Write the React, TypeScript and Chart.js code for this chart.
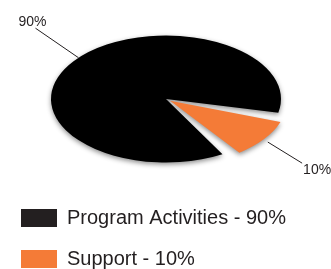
import React, { useEffect, useRef } from 'react';
import { Chart, registerables } from 'chart.js';

Chart.register(...registerables);

const LABELS = ['Program Activities - 90%', 'Support - 10%'];
const VALUES = [90, 10];
const SLICE_LABELS = ['90%', '10%'];
const COLORS = ['#000000', '#f47b37'];
const LEGEND_COLORS = ['#231f20', '#f47b37'];
const OFFSETS = [0, 20];

const SQUASH = 0.552;
const PIE_X = 166;
const PIE_Y = 99;
const FONT = "'Liberation Sans', Arial, sans-serif";
const INK = '#231f20';
const LEADER_START_BEND = [4, 1];
const LEADER_END_BEND = [8, 4];
const LEADER_LEN = [183, 179];

const rad = (d: number) => (d * Math.PI) / 180;

const ellipsePlugin = {
  id: 'ellipse',
  beforeDatasetsDraw(chart: any) {
    const arc = chart.getDatasetMeta(0).data[0];
    const ctx = chart.ctx;
    ctx.save();
    ctx.translate(PIE_X, PIE_Y);
    ctx.scale(1, SQUASH);
    ctx.translate(-arc.x, -arc.y);
    ctx.shadowColor = 'rgba(0,0,0,0.45)';
    ctx.shadowBlur = 5;
    ctx.shadowOffsetY = 2;
  },
  afterDatasetsDraw(chart: any) {
    const ctx = chart.ctx;
    ctx.restore();
    const meta = chart.getDatasetMeta(0);
    meta.data.forEach((el: any, i: number) => {
      const { startAngle, endAngle, outerRadius } = el.getProps(
        ['startAngle', 'endAngle', 'outerRadius'],
        true
      );
      const off = el.options.offset || 0;
      const sp = (el.options.spacing || 0) / 2;
      const circ = endAngle - startAngle;
      const fix = 1 - Math.sin(Math.min(Math.PI, circ));
      const mid = (startAngle + endAngle) / 2;
      const shift = off / 4;
      const r = outerRadius + sp + off * fix;
      const a0 = mid + rad(LEADER_START_BEND[i]);
      const sx = PIE_X + Math.cos(mid) * shift + Math.cos(a0) * r;
      const sy = PIE_Y + (Math.sin(mid) * shift + Math.sin(a0) * r) * SQUASH;
      const a1 = mid + rad(LEADER_END_BEND[i]);
      const ex = PIE_X + Math.cos(a1) * LEADER_LEN[i];
      const ey = PIE_Y + Math.sin(a1) * LEADER_LEN[i] * SQUASH;
      ctx.save();
      ctx.strokeStyle = INK;
      ctx.lineWidth = 1;
      ctx.beginPath();
      ctx.moveTo(sx, sy);
      ctx.lineTo(ex, ey);
      ctx.stroke();
      ctx.fillStyle = INK;
      ctx.font = `14px ${FONT}`;
      ctx.textBaseline = 'alphabetic';
      if (Math.cos(mid) < 0) {
        ctx.textAlign = 'center';
        ctx.fillText(SLICE_LABELS[i], ex - 3, ey - 2);
      } else {
        ctx.textAlign = 'left';
        ctx.fillText(SLICE_LABELS[i], ex + 1, ey + 11);
      }
      ctx.restore();
    });
  },
};

export default function App() {
  const ref = useRef<HTMLCanvasElement>(null);
  useEffect(() => {
    if (!ref.current) return;
    const chart = new Chart(ref.current, {
      type: 'pie',
      data: {
        labels: LABELS,
        datasets: [
          {
            data: VALUES,
            backgroundColor: COLORS,
            borderWidth: 0,
            offset: OFFSETS,
            spacing: 4.4,
            clip: false,
          } as any,
        ],
      },
      options: {
        animation: false,
        responsive: false,
        events: [],
        rotation: 144.5,
        radius: 112.8,
        layout: { padding: 0 },
        plugins: {
          tooltip: { enabled: false },
          legend: {
            position: 'bottom',
            align: 'start',
            labels: {
              boxWidth: 36,
              boxHeight: 18,
              padding: 21,
              color: INK,
              font: { family: FONT, size: 20 },
              generateLabels: () =>
                LABELS.map((text, i) => ({
                  text,
                  fillStyle: LEGEND_COLORS[i],
                  strokeStyle: LEGEND_COLORS[i],
                  lineWidth: 0,
                  hidden: false,
                  index: i,
                  fontColor: INK,
                })),
            },
          },
        },
      } as any,
      plugins: [ellipsePlugin],
    });
    return () => chart.destroy();
  }, []);
  return (
    <div
      style={{
        position: 'fixed',
        left: 0,
        top: 0,
        width: 331,
        height: 269,
        overflow: 'hidden',
        background: '#fff',
      }}
    >
      <canvas ref={ref} width={331} height={279} style={{ display: 'block' }} />
    </div>
  );
}
